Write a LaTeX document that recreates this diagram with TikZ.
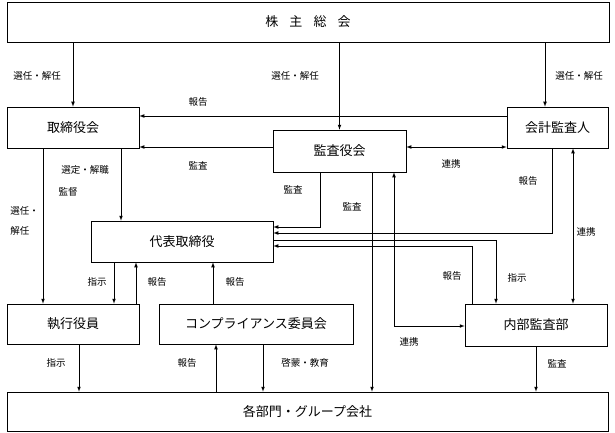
\documentclass[tikz,border=0pt]{standalone}
\usepackage{fontspec}
\setmainfont{Noto Sans CJK JP}

\tikzset{>=latex}
\tikzset{
  box/.style={draw, inner sep=0pt, font=\fontsize{13}{15}\selectfont},
  lbl/.style={inner sep=1pt, font=\fontsize{9.5}{11}\selectfont}
}

\begin{document}
\begin{tikzpicture}[x=1pt, y=-1pt, line width=0.7pt]
\useasboundingbox (0,0) rectangle (615,433);

% boxes
\node[box, minimum width=602pt, minimum height=40pt] (meeting) at (308,22) {株\hspace{0.85em}主\hspace{0.85em}総\hspace{0.85em}会};
\node[box, minimum width=132pt, minimum height=41pt] (board) at (73,127.5) {取締役会};
\node[box, minimum width=101pt, minimum height=41pt] (auditor) at (557.5,127.5) {会計監査人};
\node[box, minimum width=133pt, minimum height=42pt] (kansa) at (339.5,151) {監査役会};
\node[box, minimum width=182pt, minimum height=41pt] (ceo) at (182,241.5) {代表取締役};
\node[box, minimum width=132pt, minimum height=40pt] (officers) at (73,324) {執行役員};
\node[box, minimum width=194pt, minimum height=40pt] (compliance) at (256,324) {コンプライアンス委員会};
\node[box, minimum width=142pt, minimum height=42pt] (internal) at (536,325) {内部監査部};
\node[box, minimum width=601pt, minimum height=39pt] (depts) at (307.5,411.5) {各部門・グループ会社};

% from the meeting
\draw[->] (meeting.south -| board.north) -- (board.north);
\draw[->] (meeting.south -| kansa.north) -- (kansa.north);
\draw[->] (meeting.south -| 545,0) -- (545,0 |- auditor.north);

% upper row
\draw[->] (auditor.west |- 0,116) -- (board.east |- 0,116);
\draw[->] (kansa.west |- 0,147) -- (board.east |- 0,147);
\draw[<->] (kansa.east |- 0,147) -- (auditor.west |- 0,147);
\draw[->] (121,0 |- board.south) -- (121,0 |- ceo.north);
\draw[->] (43,0 |- board.south) -- (43,0 |- officers.north);

% into and out of the ceo box
\draw[->] (320,0 |- kansa.south) |- (ceo.east |- 0,227);
\draw[->] (552,0 |- auditor.south) |- (ceo.east |- 0,233);
\draw[->] (ceo.east |- 0,240) -| (496,0 |- internal.north);
\draw[->] (472,0 |- internal.north) |- (ceo.east |- 0,246);
\draw[<->] (573,0 |- auditor.south) -- (573,0 |- internal.north);
\draw[->] (372,0 |- kansa.south) -- (372,0 |- depts.north);
\draw[<->] (394,0 |- kansa.south) |- (internal.west |- 0,326);
\draw[->] (114,0 |- ceo.south) -- (114,0 |- officers.north);
\draw[<-] (136,0 |- ceo.south) -- (136,0 |- officers.north);
\draw[<-] (213,0 |- ceo.south) -- (213,0 |- compliance.north);

% down to the departments
\draw[->] (79,0 |- officers.south) -- (79,0 |- depts.north);
\draw[<-] (216,0 |- compliance.south) -- (216,0 |- depts.north);
\draw[->] (263,0 |- compliance.south) -- (263,0 |- depts.north);
\draw[->] (internal.south) -- (internal.south |- depts.north);

% labels
\node[lbl] (elect1) at (37,76) {選任・解任};
\node[lbl] (elect2) at (295,76) {選任・解任};
\node[lbl] (elect3) at (579,76) {選任・解任};
\node[lbl] (report1) at (198,102) {報告};
\node[lbl] (audit1) at (198,166) {監査};
\node[lbl] (link1) at (451,164) {連携};
\node[lbl] (select) at (85,170) {選定・解職};
\node[lbl] (supervise) at (68,192) {監督};
\node[lbl, align=left, anchor=west] (elect4) at (9,220.5) {選任・\\[9pt]解任};
\node[lbl] (audit2) at (293,190) {監査};
\node[lbl] (audit3) at (352,207) {監査};
\node[lbl] (report2) at (528,181) {報告};
\node[lbl] (link2) at (586,232) {連携};
\node[lbl] (report3) at (452,276) {報告};
\node[lbl] (order1) at (517,278) {指示};
\node[lbl] (order2) at (97,282) {指示};
\node[lbl] (report4) at (157,282) {報告};
\node[lbl] (report5) at (235,282) {報告};
\node[lbl] (link3) at (409,342) {連携};
\node[lbl] (order3) at (56,363) {指示};
\node[lbl] (report6) at (187,363) {報告};
\node[lbl] (educate) at (305,363) {啓蒙・教育};
\node[lbl] (audit4) at (557,364) {監査};

\end{tikzpicture}
\end{document}
